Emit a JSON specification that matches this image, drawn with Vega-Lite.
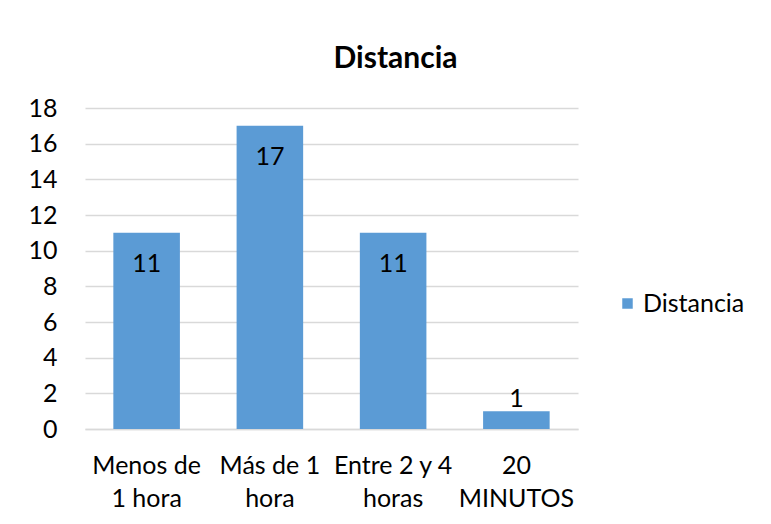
{
  "$schema": "https://vega.github.io/schema/vega-lite/v6.json",
  "width": 493,
  "height": 321,
  "autosize": "none",
  "padding": {"left": 85, "top": 108, "right": 193, "bottom": 95},
  "background": "white",
  "title": {
    "text": "Distancia",
    "font": "Lato",
    "fontSize": 30,
    "fontWeight": "bold",
    "color": "#000000",
    "anchor": "middle",
    "dx": 64,
    "offset": 22
  },
  "data": {
    "values": [
      {"categoria": "Menos de 1 hora", "n": 11},
      {"categoria": "Más de 1 hora", "n": 17},
      {"categoria": "Entre 2 y 4 horas", "n": 11},
      {"categoria": "20 MINUTOS", "n": 1}
    ]
  },
  "encoding": {
    "x": {
      "field": "categoria",
      "type": "nominal",
      "sort": null,
      "scale": {"paddingInner": 0.46, "paddingOuter": 0.23},
      "axis": {
        "title": null,
        "labelAngle": 0,
        "ticks": false,
        "domainColor": "#D9D9D9",
        "domainWidth": 1.5,
        "labelFont": "Lato",
        "labelFontSize": 25,
        "labelColor": "#000000",
        "labelPadding": 44,
        "labelLineHeight": 33,
        "labelBaseline": "alphabetic",
        "labelExpr": "datum.label == 'Menos de 1 hora' ? ['Menos de', '1 hora'] : datum.label == 'Más de 1 hora' ? ['Más de 1', 'hora'] : datum.label == 'Entre 2 y 4 horas' ? ['Entre 2 y 4', 'horas'] : ['20', 'MINUTOS']"
      }
    },
    "y": {
      "field": "n",
      "type": "quantitative",
      "scale": {"domain": [0, 18]},
      "axis": {
        "title": null,
        "values": [0, 2, 4, 6, 8, 10, 12, 14, 16, 18],
        "domain": false,
        "ticks": false,
        "gridColor": "#D9D9D9",
        "gridWidth": 1.5,
        "labelFont": "Lato",
        "labelFontSize": 25,
        "labelColor": "#000000",
        "labelPadding": 28
      }
    }
  },
  "layer": [
    {
      "mark": {"type": "bar", "color": "#5B9BD5"},
      "encoding": {
        "color": {
          "datum": "Distancia",
          "type": "nominal",
          "scale": {"range": ["#5B9BD5"]},
          "legend": {
            "title": null,
            "orient": "none",
            "legendX": 530,
            "legendY": 183,
            "symbolType": "square",
            "symbolSize": 110,
            "symbolStrokeWidth": 0,
            "labelFont": "Lato",
            "labelFontSize": 25,
            "labelColor": "#000000",
            "labelOffset": 3
          }
        }
      }
    },
    {
      "transform": [{"filter": "datum.n >= 3"}],
      "mark": {"type": "text", "font": "Lato", "fontSize": 25, "color": "#000000", "baseline": "middle", "dy": 31},
      "encoding": {
        "text": {"field": "n", "type": "quantitative"}
      }
    },
    {
      "transform": [{"filter": "datum.n < 3"}],
      "mark": {"type": "text", "font": "Lato", "fontSize": 25, "color": "#000000", "baseline": "middle", "dy": -12},
      "encoding": {
        "text": {"field": "n", "type": "quantitative"}
      }
    }
  ],
  "config": {
    "view": {"stroke": null}
  }
}
